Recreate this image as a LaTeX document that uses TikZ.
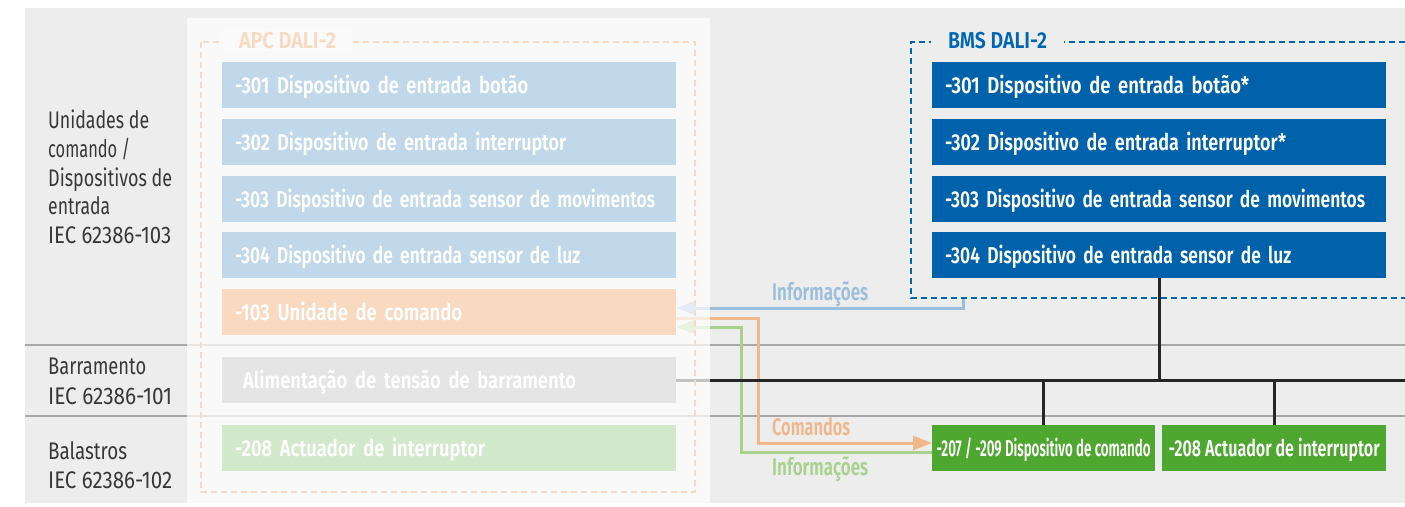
\documentclass[tikz,border=0pt]{standalone}
\usepackage{graphicx}
\usepackage{fontspec}
\setmainfont{Fira Sans}[FakeStretch=0.8, BoldFont={Fira Sans SemiBold}, BoldFeatures={FakeStretch=0.8}]
\usetikzlibrary{arrows.meta}
\newcommand{\fitw}[2]{\resizebox{#1}{\height}{#2}}
\definecolor{bggray}{HTML}{ECEDEC}
\definecolor{panelc}{HTML}{FAFAFA}
\definecolor{lblue}{HTML}{C0D8EA}
\definecolor{lorange}{HTML}{F9D9C0}
\definecolor{lgrayb}{HTML}{E5E5E5}
\definecolor{lgreen}{HTML}{D3E9CB}
\definecolor{dblue}{HTML}{0062AA}
\definecolor{bmsblue}{HTML}{0066B3}
\definecolor{dgreen}{HTML}{4EA72E}
\definecolor{arrblue}{HTML}{9BBEDC}
\definecolor{arrorange}{HTML}{F0B78A}
\definecolor{arrgreen}{HTML}{A9D18E}
\definecolor{labtext}{HTML}{383838}
\definecolor{sepline}{HTML}{A8A8A8}
\tikzset{
  devbox/.style={anchor=north west, minimum width=454pt, minimum height=46pt, inner xsep=13pt, inner ysep=0pt,
    text height=16pt, text depth=0pt, text width=428pt, align=left, text=white,
    font=\bfseries\fontsize{23}{25}\selectfont},
  bmsbox/.style={devbox, fill=dblue},
  grnbox/.style={anchor=north west, minimum height=46pt, inner xsep=0pt, inner ysep=0pt, fill=dgreen, text=white,
    text height=16pt, text depth=0pt, font=\bfseries\fontsize{23}{25}\selectfont},
  sidelab/.style={anchor=base west, inner sep=0pt, text=labtext, font=\fontsize{24}{28}\selectfont},
  flowlab/.style={anchor=base west, inner sep=0pt, font=\bfseries\fontsize{24}{26}\selectfont},
  titlelab/.style={anchor=base, inner xsep=17pt, inner ysep=3pt, font=\bfseries\fontsize{23}{25}\selectfont},
  flow/.style={line width=3pt},
  bus/.style={line width=3pt, black!85},
  tip/.style={-{Triangle[length=19pt,width=14pt]}}
}
\begin{document}
\begin{tikzpicture}[x=1pt,y=-1pt]
\useasboundingbox (0,0) rectangle (1405,506);
\fill[bggray] (25,8) rectangle (1405,503);
% separators
\draw[sepline, line width=1.5pt] (25,345) -- (1405,345);
\draw[sepline, line width=1.5pt] (25,416) -- (1405,416);

% boxes (first pass, under the panel overlay)
\node[devbox, fill=lblue] (a301) at (222,62) {};
\node[devbox, fill=lorange] (a103) at (222,289) {};
\node[devbox, fill=lgrayb] (aps) at (222,357) {};

\node[bmsbox] (b301) at (932,62) {\fitw{304pt}{-301 Dispositivo de entrada botão*}};
\node[bmsbox] (b302) at (932,119) {\fitw{341pt}{-302 Dispositivo de entrada interruptor*}};
\node[bmsbox] (b303) at (932,176) {\fitw{420pt}{-303 Dispositivo de entrada sensor de movimentos}};
\node[bmsbox] (b304) at (932,232) {\fitw{346pt}{-304 Dispositivo de entrada sensor de luz}};

\node[grnbox, minimum width=223pt] (g207) at (932,425) {\fitw{214pt}{-207 / -209 Dispositivo de comando}};
\node[grnbox, minimum width=224pt] (g208) at (1162,425) {\fitw{211pt}{-208 Actuador de interruptor}};

\coordinate (bmsbot) at (963,299);
\coordinate (busend) at (1405,380);

% flows
\draw[flow, arrblue, tip] (bmsbot) |- (a103.east |- 0,308);
\draw[flow, arrorange, tip] (a103.east |- 0,318) -| (758,443) -- (g207.west |- 0,443);
\draw[flow, arrgreen, tip] (g207.west |- 0,452) -| (741,327) -- (a103.east |- 0,327);

% bus
\draw[bus] (aps.east |- 0,380) -- (busend);
\draw[bus] (b304.south -| 1159,0) -- (1159,380);
\draw[bus] (1043,380) -- (g207.north -| 1043,0);
\draw[bus] (1274,380) -- (g208.north -| 1274,0);

% APC panel overlay
\fill[white, opacity=0.72] (187,18) rectangle (710,503);

% APC boxes
\node[devbox, fill=lblue] at (222,62) {\fitw{293pt}{-301 Dispositivo de entrada botão}};
\node[devbox, fill=lblue] (a302) at (222,119) {\fitw{331pt}{-302 Dispositivo de entrada interruptor}};
\node[devbox, fill=lblue] (a303) at (222,176) {\fitw{420pt}{-303 Dispositivo de entrada sensor de movimentos}};
\node[devbox, fill=lblue] (a304) at (222,232) {\fitw{345pt}{-304 Dispositivo de entrada sensor de luz}};
\node[devbox, fill=lorange] at (222,289) {\fitw{227pt}{-103 Unidade de comando}};
\node[devbox, fill=lgrayb] at (222,357) {\hspace*{8pt}\fitw{333pt}{Alimentação de tensão de barramento}};
\node[devbox, fill=lgreen] (a208) at (222,425) {\fitw{250pt}{-208 Actuador de interruptor}};

% dashed frames
\draw[lorange, line width=2pt, dash pattern=on 6pt off 4pt] (201,42) rectangle (695,492);
\node[titlelab, fill=panelc, text=lorange] (apct) at (287.5,48) {\fitw{97pt}{APC DALI-2}};
\draw[bmsblue, line width=2.5pt, dash pattern=on 6pt off 4pt] (1415,42) -- (911,42) -- (911,298) -- (1415,298);
\node[titlelab, fill=bggray, text=bmsblue] (bmst) at (997.5,48) {\fitw{99pt}{BMS DALI-2}};

% flow labels
\node[flowlab, text=arrblue] (linfo1) at (772,300.5) {\fitw{96pt}{Informações}};
\node[flowlab, text=arrorange] (lcmd) at (772,435.5) {\fitw{78pt}{Comandos}};
\node[flowlab, text=arrgreen] (linfo2) at (772,475) {\fitw{96pt}{Informações}};

% side labels
\node[sidelab] (s1a) at (48,128) {\fitw{101pt}{Unidades de}};
\node[sidelab] (s1b) at (48,157) {\fitw{82pt}{comando /}};
\node[sidelab] (s1c) at (48,186) {\fitw{124pt}{Dispositivos de}};
\node[sidelab] (s1d) at (48,214.5) {\fitw{62pt}{entrada}};
\node[sidelab] (s1e) at (48,243.5) {\fitw{123pt}{IEC 62386-103}};
\node[sidelab] (s2a) at (48,374) {\fitw{98pt}{Barramento}};
\node[sidelab] (s2b) at (48,404) {\fitw{124pt}{IEC 62386-101}};
\node[sidelab] (s3a) at (48,459) {\fitw{79pt}{Balastros}};
\node[sidelab] (s3b) at (48,488) {\fitw{124pt}{IEC 62386-102}};
\end{tikzpicture}
\end{document}
